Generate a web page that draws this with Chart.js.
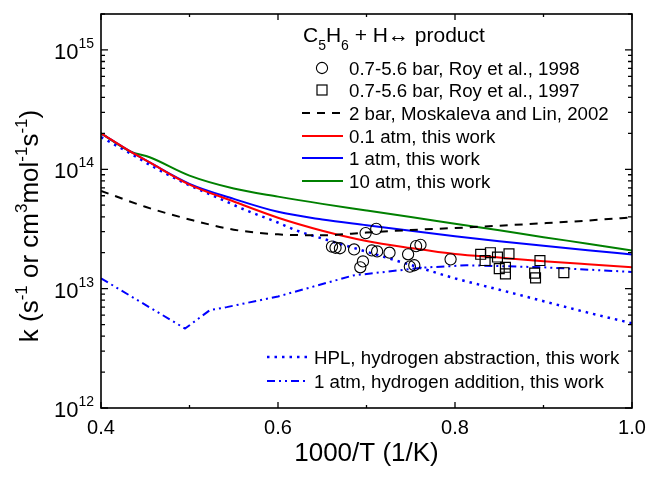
<!DOCTYPE html>
<html><head><meta charset="utf-8">
<script src="https://cdn.jsdelivr.net/npm/chart.js@4.4.0/dist/chart.umd.min.js"></script>
<style>html,body{margin:0;padding:0;background:#fff;overflow:hidden}#wrap{width:648px;height:480px}</style>
</head><body><div id="wrap"><canvas id="c" width="648" height="480"></canvas></div>
<script>
// ---- data ----
const roy1998_x = [0.661,0.665,0.670,0.686,0.699,0.711,0.706,0.712,0.726,0.696,0.693,0.747,0.756,0.761,0.749,0.754,0.795];
const roy1998_y = [2.25e13,2.20e13,2.18e13,2.13e13,2.92e13,3.17e13,2.09e13,2.05e13,2.0e13,1.69e13,1.51e13,1.94e13,2.27e13,2.33e13,1.53e13,1.57e13,1.76e13];
const roy1997_x = [0.829,0.840,0.834,0.848,0.861,0.850,0.857,0.857,0.896,0.890,0.891,0.923];
const roy1997_y = [1.94e13,2.0e13,1.72e13,1.84e13,1.96e13,1.47e13,1.51e13,1.33e13,1.72e13,1.35e13,1.23e13,1.36e13];
const mosk_x = [0.40,0.45,0.50,0.55,0.60,0.65,0.70,0.75,0.80,0.85,0.90,0.95,1.00];
const mosk_y = [6.6e13,4.85e13,3.8e13,3.12e13,2.85e13,2.8e13,2.95e13,3.1e13,3.22e13,3.37e13,3.53e13,3.72e13,3.96e13];
const p01_x = [0.40,0.433,0.455,0.50,0.55,0.60,0.65,0.70,0.75,0.80,0.85,0.90,0.95,1.00];
const p01_y = [2.0e14,1.41e14,1.14e14,7.45e13,5.37e13,3.93e13,3.06e13,2.51e13,2.19e13,1.95e13,1.82e13,1.70e13,1.60e13,1.51e13];
const p1_x = [0.40,0.433,0.455,0.50,0.55,0.60,0.65,0.70,0.75,0.80,0.85,0.90,0.95,1.00];
const p1_y = [2.0e14,1.41e14,1.14e14,7.55e13,5.65e13,4.4e13,3.8e13,3.4e13,3.05e13,2.75e13,2.5e13,2.29e13,2.1e13,1.93e13];
const p10_x = [0.40,0.433,0.455,0.50,0.55,0.60,0.65,0.70,0.75,0.80,0.85,0.90,0.95,1.00];
const p10_y = [2.0e14,1.41e14,1.26e14,8.85e13,6.9e13,5.9e13,5.13e13,4.52e13,3.98e13,3.5e13,3.08e13,2.7e13,2.38e13,2.09e13];
const hpl_x = [0.40,0.433,0.459,0.493,0.531,0.565,0.599,0.621,0.65,0.70,0.75,0.80,0.85,0.90,0.95,1.00];
const hpl_y = [1.86e14,1.36e14,1.05e14,7.76e13,5.82e13,4.5e13,3.6e13,3.07e13,2.63e13,2.04e13,1.58e13,1.22e13,9.8e12,7.85e12,6.3e12,5.13e12];
const add_x = [0.40,0.495,0.523,0.542,0.60,0.685,0.764,0.813,0.90,1.00];
const add_y = [1.22e13,4.63e12,6.6e12,7.0e12,8.6e12,1.29e13,1.5e13,1.57e13,1.51e13,1.38e13];
const xTickLabels = ['0.4','0.6','0.8','1.0'];
const xTickValues = [0.4,0.6,0.8,1.0];
const xMinorValues = [0.5,0.7,0.9];
const yDecades = [12,13,14,15];

const FF = "'Liberation Sans', Arial, Helvetica, sans-serif";
const pts = (xs, ys) => xs.map((v,i)=>({x:v,y:ys[i]}));

function lineDs(xs, ys, color, dash, width, smooth){
  return {data: pts(xs,ys), showLine:true, borderColor:color, backgroundColor:color,
    borderWidth:width, borderDash:dash, pointRadius:0, pointHoverRadius:0,
    cubicInterpolationMode: smooth ? 'monotone' : 'default', tension: 0, fill:false};
}

const datasets = [
  {data: pts(roy1998_x, roy1998_y), pointStyle:'circle', pointRadius:5.6, borderColor:'#000', borderWidth:1.1, backgroundColor:'rgba(0,0,0,0)', showLine:false},
  {data: pts(roy1997_x, roy1997_y), pointStyle:'rect', pointRadius:7, borderColor:'#000', borderWidth:1.2, backgroundColor:'rgba(0,0,0,0)', showLine:false},
  lineDs(mosk_x, mosk_y, '#000', [8,7], 2, true),
  lineDs(p01_x, p01_y, '#ff0000', [], 2, true),
  lineDs(p1_x, p1_y, '#0000ff', [], 2, true),
  lineDs(p10_x, p10_y, '#008000', [], 2, true),
  lineDs(hpl_x, hpl_y, '#0000ff', [2.5,5], 2.5, true),
  lineDs(add_x, add_y, '#0000ff', [8,4,2,4,2,4], 2, false),
];

function richText(ctx, pieces, x, y, align){
  let total = 0;
  pieces.forEach(p=>{ctx.font = p.s+'px '+FF; p.w = ctx.measureText(p.t).width; total += p.w;});
  let cx = align==='center' ? x-total/2 : (align==='right' ? x-total : x);
  ctx.textAlign='left'; ctx.textBaseline='alphabetic';
  pieces.forEach(p=>{ctx.font = p.s+'px '+FF; ctx.fillText(p.t, cx, y+(p.dy||0)); cx += p.w;});
}

const decor = {
  id:'decor',
  afterDraw(chart){
    const ctx = chart.ctx;
    const {left,right,top,bottom} = chart.chartArea;
    const xs = chart.scales.x, ys = chart.scales.y;
    ctx.save();
    ctx.strokeStyle='#000'; ctx.fillStyle='#000'; ctx.setLineDash([]);
    ctx.lineWidth=1.6;
    ctx.strokeRect(left, top, right-left, bottom-top);
    ctx.lineWidth=1.3;
    const xt = xTickValues.map(v=>[v,6]).concat(xMinorValues.map(v=>[v,3]));
    xt.forEach(([v,len])=>{
      const px = xs.getPixelForValue(v);
      ctx.beginPath(); ctx.moveTo(px,bottom); ctx.lineTo(px,bottom-len);
      ctx.moveTo(px,top); ctx.lineTo(px,top+len); ctx.stroke();
    });
    yDecades.forEach(e=>{
      for(let m=1;m<=9;m++){
        const val = m*Math.pow(10,e);
        if(val>ys.max*1.0001) break;
        const py = ys.getPixelForValue(val);
        const len = m===1?7:4;
        ctx.beginPath(); ctx.moveTo(left,py); ctx.lineTo(left+len,py);
        ctx.moveTo(right,py); ctx.lineTo(right-len,py); ctx.stroke();
      }
    });
    ctx.font='20px '+FF; ctx.textAlign='center'; ctx.textBaseline='alphabetic';
    xTickValues.forEach((v,i)=>{ ctx.fillText(xTickLabels[i], xs.getPixelForValue(v), 434); });
    yDecades.forEach(e=>{
      const py = ys.getPixelForValue(Math.pow(10,e));
      ctx.font='14px '+FF; const ew = ctx.measureText(String(e)).width;
      ctx.textAlign='left';
      ctx.fillText(String(e), 94-ew, py-2);
      ctx.font='22px '+FF; ctx.textAlign='right';
      ctx.fillText('10', 94-ew, py+9);
    });
    ctx.font='26px '+FF; ctx.textAlign='center';
    ctx.fillText('1000/T (1/K)', (left+right)/2, 461);
    ctx.save(); ctx.translate(38, 226); ctx.rotate(-Math.PI/2);
    richText(ctx, [
      {t:'k (s',s:26},{t:'-1',s:17,dy:-11},{t:' or cm',s:26},{t:'3',s:17,dy:-11},
      {t:'mol',s:26},{t:'-1',s:17,dy:-11},{t:'s',s:26},{t:'-1',s:17,dy:-11},{t:')',s:26}
    ], 0, 0, 'center');
    ctx.restore();
    richText(ctx, [
      {t:'C',s:21},{t:'5',s:14,dy:8},{t:'H',s:21},{t:'6',s:14,dy:8},{t:' + H\u2194 product',s:21}
    ], 303, 42, 'left');
    const L = [
      {y:68, kind:'circle', t:'0.7-5.6 bar, Roy et al., 1998'},
      {y:90, kind:'rect', t:'0.7-5.6 bar, Roy et al., 1997'},
      {y:113, kind:'line', c:'#000', d:[8,7], w:2, t:'2 bar, Moskaleva and Lin, 2002'},
      {y:136, kind:'line', c:'#ff0000', d:[], w:2, t:'0.1 atm, this work'},
      {y:158, kind:'line', c:'#0000ff', d:[], w:2, t:'1 atm, this work'},
      {y:181, kind:'line', c:'#008000', d:[], w:2, t:'10 atm, this work'},
    ];
    const L2 = [
      {y:357, c:'#0000ff', d:[2.5,5], w:2.5, t:'HPL, hydrogen abstraction, this work'},
      {y:381, c:'#0000ff', d:[8,4,2,4,2,4], w:2, t:'1 atm, hydrogen addition, this work'},
    ];
    ctx.font='18.7px '+FF; ctx.textAlign='left';
    L.forEach(it=>{
      ctx.setLineDash([]);
      ctx.fillStyle='#000'; ctx.fillText(it.t, 349, it.y+6.5);
      if(it.kind==='circle'){ ctx.lineWidth=1.1; ctx.strokeStyle='#000'; ctx.beginPath(); ctx.arc(322,it.y,5.6,0,Math.PI*2); ctx.stroke(); }
      else if(it.kind==='rect'){ ctx.lineWidth=1.2; ctx.strokeStyle='#000'; ctx.strokeRect(317,it.y-5,10,10); }
      else { ctx.lineWidth=it.w; ctx.strokeStyle=it.c; ctx.setLineDash(it.d); ctx.beginPath(); ctx.moveTo(302,it.y); ctx.lineTo(343,it.y); ctx.stroke(); }
    });
    L2.forEach(it=>{
      ctx.setLineDash([]); ctx.fillStyle='#000'; ctx.fillText(it.t, 314, it.y+6.5);
      ctx.lineWidth=it.w; ctx.strokeStyle=it.c; ctx.setLineDash(it.d);
      ctx.beginPath(); ctx.moveTo(267,it.y); ctx.lineTo(308,it.y); ctx.stroke();
    });
    ctx.restore();
  }
};

new Chart(document.getElementById('c'), {
  type:'scatter',
  data:{datasets},
  options:{
    responsive:false, animation:false, devicePixelRatio:1,
    layout:{padding:{top:14,right:16,left:0,bottom:0}},
    plugins:{legend:{display:false}, tooltip:{enabled:false}},
    elements:{line:{borderJoinStyle:'round'}},
    scales:{
      x:{type:'linear', min:0.4, max:1.0,
        ticks:{display:false}, grid:{display:false, drawTicks:false}, border:{display:false},
        afterFit(s){ s.height = 72; }},
      y:{type:'logarithmic', min:1e12, max:2e15,
        ticks:{display:false}, grid:{display:false, drawTicks:false}, border:{display:false},
        afterFit(s){ s.width = 101; }}
    }
  },
  plugins:[decor]
});
</script></body></html>
